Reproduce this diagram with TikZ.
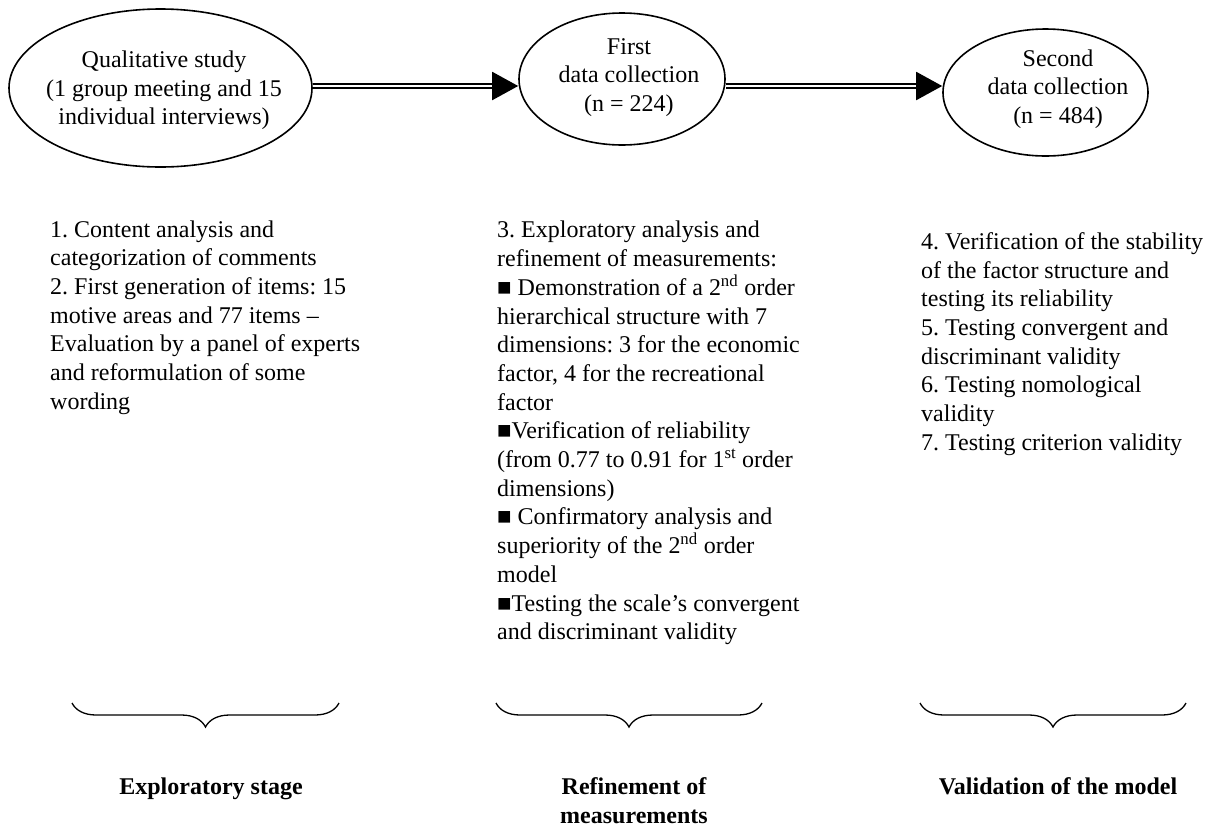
\documentclass[tikz,border=0pt]{standalone}
\usepackage{fontspec}
\setmainfont{Liberation Serif}
\frenchspacing
\usetikzlibrary{shapes.geometric,arrows.meta,decorations.pathreplacing}
\begin{document}
\begin{tikzpicture}[x=1pt,y=-1pt,
  ell/.style={draw, ellipse, line width=1.6pt, inner sep=0pt},
  etext/.style={anchor=north, align=center, inner sep=0pt, font=\fontsize{24}{28.5}\selectfont},
  body/.style={anchor=north west, align=left, inner sep=0pt, font=\fontsize{24}{28.7}\selectfont},
  dblarrow/.style={double, double distance=2pt, line width=2pt, -{Triangle[length=26pt,width=28pt]}},
  brc/.style={decorate, decoration={brace, amplitude=24pt, mirror}, line width=1.3pt},
  stage/.style={anchor=north, align=center, inner sep=0pt, font=\fontsize{24}{28.7}\selectfont\bfseries}]
\useasboundingbox (0,0) rectangle (1219,823);

% ellipses
\node[ell, minimum width=303pt, minimum height=158pt] (e1) at (160.5,88) {};
\node[ell, minimum width=206pt, minimum height=132pt] (e2) at (622,79) {};
\node[ell, minimum width=205pt, minimum height=127pt] (e3) at (1045.5,92.5) {};

\node[etext] (e1t) at (164,47.5) {\strut Qualitative study\\(1 group meeting and 15\\individual interviews)};
\node[etext] (e2t) at (629,34) {\strut First\\data collection\\(n = 224)};
\node[etext] (e3t) at (1058,46) {\strut Second\\data collection\\(n = 484)};

% arrows
\coordinate (ay) at (0,86);
\draw[dblarrow] (e1.east |- ay) -- (e2.west |- ay);
\draw[dblarrow] (e2.east |- ay) -- (e3.west |- ay);

% body texts
\node[body] (t1) at (50,216.9) {\strut 1. Content analysis and\\
categorization of comments\\
2. First generation of items: 15\\
motive areas and 77 items –\\
Evaluation by a panel of experts\\
and reformulation of some\\
wording};

\node[body] (t2) at (497,217.6) {\strut 3. Exploratory analysis and\\
refinement of measurements:\\
■ Demonstration of a 2\textsuperscript{nd} order\\
hierarchical structure with 7\\
dimensions: 3 for the economic\\
factor, 4 for the recreational\\
factor\\
■Verification of reliability\\
(from 0.77 to 0.91 for 1\textsuperscript{st} order\\
dimensions)\\
■ Confirmatory analysis and\\
superiority of the 2\textsuperscript{nd} order\\
model\\
■Testing the scale’s convergent\\
and discriminant validity};

\node[body] (t3) at (921,229.2) {\strut 4. Verification of the stability\\
of the factor structure and\\
testing its reliability\\
5. Testing convergent and\\
discriminant validity\\
6. Testing nomological\\
validity\\
7. Testing criterion validity};

% braces
\coordinate (b1l) at (72,703);
\coordinate (b1r) at (339,703);
\coordinate (b2l) at (496,703);
\coordinate (b2r) at (762,703);
\coordinate (b3l) at (920,703);
\coordinate (b3r) at (1186,703);
\draw[brc] (b1l) -- (b1r);
\draw[brc] (b2l) -- (b2r);
\draw[brc] (b3l) -- (b3r);

% stage labels
\node[stage] (s1) at (211,774) {\strut Exploratory stage};
\node[stage] (s2) at (634,774) {\strut Refinement of\\measurements};
\node[stage] (s3) at (1058,774) {\strut Validation of the model};
\end{tikzpicture}
\end{document}
